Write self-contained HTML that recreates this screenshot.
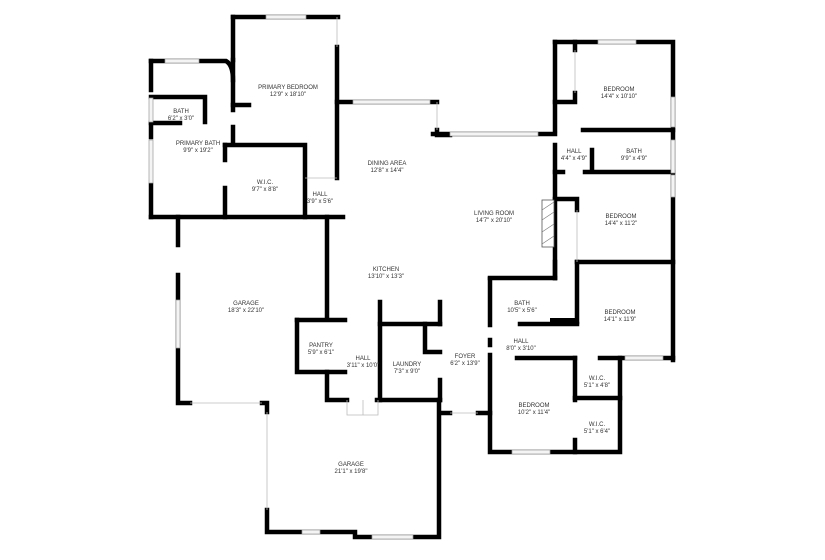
<!DOCTYPE html>
<html><head><meta charset="utf-8"><style>
html,body{margin:0;padding:0;background:#fff;}
svg{display:block;}
text{font-family:"Liberation Sans",sans-serif;font-size:6px;fill:#333;text-anchor:middle;}
.w{stroke:#000;stroke-width:4.5;stroke-linecap:square;fill:none;}
.t{stroke:#bbb;stroke-width:0.8;fill:none;}
.win{fill:#f4f4f4;stroke:#999;stroke-width:0.7;}
</style></head><body>
<svg width="825" height="560" viewBox="0 0 825 560" xmlns="http://www.w3.org/2000/svg">
<rect width="825" height="560" fill="#fff"/>
<g class="w">
<path d="M233 17 H338"/>
<path d="M233 17 V60"/>
<path d="M233 60 Q233 75 233 80 V110"/>
<path d="M233 127 V143"/>
<path d="M233 105 H249"/>
<path d="M337 47 V178"/>
<path d="M337 102 H437"/>
<path d="M437 130 V135 H450"/>
<path d="M151 61 H226 Q233 65 233 80"/>
<path d="M151 61 V90"/><path d="M151 124 V137"/><path d="M151 185 V217"/>
<path d="M151 97 H205 V122"/>
<path d="M151 123 H180"/>
<path d="M225 145 H305 V217"/>
<path d="M225 145 V160"/><path d="M225 188 V217"/>
<path d="M151 217 H343"/>
<path d="M178 217 V245"/>
<path d="M178 275 V403 H190"/>
<path d="M262 403 H267 V412"/>
<path d="M267 510 V532 H355 V537 H439 V400"/>
<path d="M327 217 V318"/>
<path d="M297 320 H345"/><path d="M297 320 V372 H345"/>
<path d="M327 372 V400 H347"/>
<path d="M380 302 V400"/><path d="M377 400 H440"/>
<path d="M380 324 H440"/><path d="M440 302 V324"/>
<path d="M425 324 V352 H440"/>
<path d="M440 380 V400"/>
<path d="M440 413 H450"/><path d="M478 413 H490"/>
<path d="M433 134 H555"/>
<path d="M555 42 H673 V360"/>
<path d="M555 42 V130"/><path d="M555 145 V278"/>
<path d="M575 42 V50"/><path d="M575 93 V102 H555"/>
<path d="M583 130 H673"/>
<path d="M592 150 V170"/>
<path d="M585 172 H673"/><path d="M555 172 H563"/>
<path d="M555 199 H577 V210"/>
<path d="M577 262 H673"/><path d="M577 262 V322"/>
<path d="M490 278 H555"/><path d="M555 262 V278"/>
<path d="M490 279 V325"/><path d="M490 355 V452 H620 V358"/>
<path d="M520 324 H577"/>
<path d="M517 358 H575"/><path d="M600 358 H673"/>
<path d="M575 358 V400"/><path d="M575 440 V452"/>
<path d="M575 398 H620"/>
<path d="M490 340 V345"/>
</g>
<rect x="550" y="318" width="27" height="8" fill="#000"/>
<rect x="542" y="200" width="12" height="47" fill="#fff" stroke="#555" stroke-width="0.8"/>
<path d="M542 210 L554 202 M542 220 L554 212 M542 232 L554 224 M542 244 L554 236" stroke="#777" stroke-width="0.6"/>
<g class="win">
<rect x="266" y="15" width="40" height="4"/>
<rect x="165" y="59" width="34" height="4"/>
<rect x="149" y="98" width="4" height="24"/>
<rect x="149" y="140" width="4" height="43"/>
<rect x="353" y="100" width="77" height="4"/>
<rect x="450" y="132" width="88" height="4"/>
<rect x="598" y="40" width="38" height="4"/>
<rect x="671" y="97" width="4" height="30"/>
<rect x="671" y="140" width="4" height="33"/>
<rect x="671" y="175" width="4" height="22"/>
<rect x="625" y="356" width="38" height="4"/>
<rect x="512" y="450" width="38" height="4"/>
<rect x="176" y="300" width="4" height="48"/>
<rect x="302" y="530" width="18" height="4"/>
<rect x="372" y="535" width="41" height="4"/>
</g>
<g class="t">
<path d="M190 403 H262"/><path d="M267 412 V510"/>
<path d="M347 400 V415 H378 V400 M363 400 V415"/>
<path d="M437 102 V130"/>
<path d="M337 17 V47"/>
<path d="M305 178 H337"/>
<path d="M575 50 V93"/>
<path d="M577 210 V262"/>
<path d="M450 413 H478"/>
</g>
<text x="288" y="89">PRIMARY BEDROOM</text><text x="288" y="96">12'9" x 18'10"</text>
<text x="181" y="113">BATH</text><text x="181" y="120">6'2" x 3'0"</text>
<text x="198" y="145">PRIMARY BATH</text><text x="198" y="152">9'9" x 19'2"</text>
<text x="265" y="184">W.I.C.</text><text x="265" y="191">9'7" x 8'8"</text>
<text x="320" y="196">HALL</text><text x="320" y="203">3'9" x 5'6"</text>
<text x="387" y="165">DINING AREA</text><text x="387" y="172">12'8" x 14'4"</text>
<text x="494" y="215">LIVING ROOM</text><text x="494" y="222">14'7" x 20'10"</text>
<text x="619" y="91">BEDROOM</text><text x="619" y="98">14'4" x 10'10"</text>
<text x="574" y="153">HALL</text><text x="574" y="160">4'4" x 4'9"</text>
<text x="634" y="153">BATH</text><text x="634" y="160">9'9" x 4'9"</text>
<text x="621" y="218">BEDROOM</text><text x="621" y="225">14'4" x 11'2"</text>
<text x="386" y="271">KITCHEN</text><text x="386" y="278">13'10" x 13'3"</text>
<text x="246" y="305">GARAGE</text><text x="246" y="312">18'3" x 22'10"</text>
<text x="522" y="305">BATH</text><text x="522" y="312">10'5" x 5'6"</text>
<text x="620" y="314">BEDROOM</text><text x="620" y="321">14'1" x 11'9"</text>
<text x="521" y="343">HALL</text><text x="521" y="350">8'0" x 3'10"</text>
<text x="321" y="347">PANTRY</text><text x="321" y="354">5'9" x 6'1"</text>
<text x="363" y="360">HALL</text><text x="363" y="367">3'11" x 10'0"</text>
<text x="407" y="366">LAUNDRY</text><text x="407" y="373">7'3" x 9'0"</text>
<text x="465" y="358">FOYER</text><text x="465" y="365">6'2" x 13'9"</text>
<text x="597" y="380">W.I.C.</text><text x="597" y="387">5'1" x 4'8"</text>
<text x="534" y="407">BEDROOM</text><text x="534" y="414">10'2" x 11'4"</text>
<text x="597" y="426">W.I.C.</text><text x="597" y="433">5'1" x 6'4"</text>
<text x="351" y="466">GARAGE</text><text x="351" y="473">21'1" x 19'8"</text>
</svg>
</body></html>
